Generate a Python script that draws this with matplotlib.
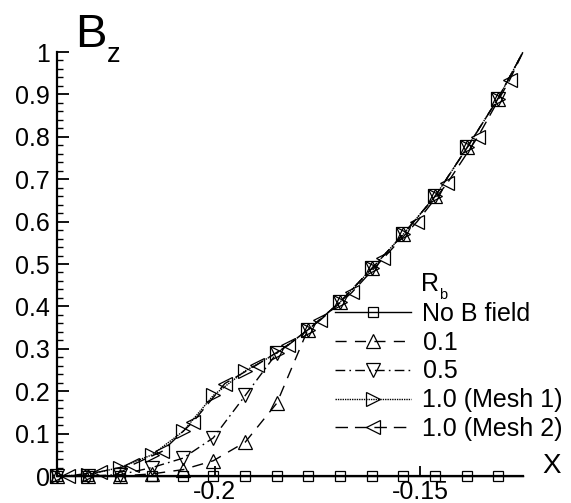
import matplotlib
matplotlib.use("Agg")
import matplotlib.pyplot as plt
from matplotlib.ticker import MultipleLocator, FixedLocator, FuncFormatter

plt.rcParams['font.family'] = ['Liberation Sans', 'DejaVu Sans']

# ---- data ----
x_grid = [-0.2385, -0.2310, -0.2232, -0.2153, -0.2078, -0.2004, -0.1926, -0.1849,
          -0.1774, -0.1695, -0.1617, -0.1541, -0.1463, -0.1385, -0.1310, -0.1249]
y_no_b = [0, 0, 0, 0, 0, 0, 0, 0, 0, 0, 0, 0, 0, 0, 0, 0]
y_rb01 = [0, 0, 0, 0.005, 0.015, 0.036, 0.08, 0.172, 0.344, 0.41, 0.49, 0.57,
          0.66, 0.775, 0.89, 1.0]
y_rb05 = [0, 0, 0.003, 0.02, 0.042, 0.09, 0.19, 0.29, 0.344, 0.41, 0.49, 0.57,
          0.66, 0.775, 0.89, 1.0]
y_mesh1 = [0, 0.003, 0.02, 0.05, 0.105, 0.19, 0.248, 0.29, 0.344, 0.41, 0.49, 0.57,
           0.66, 0.775, 0.89, 1.0]
x_mesh2 = [-0.2385, -0.2359, -0.2280, -0.2202, -0.2129, -0.2054, -0.1976, -0.1898,
           -0.1822, -0.1744, -0.1666, -0.1590, -0.1507, -0.1434, -0.1359, -0.1281, -0.1249]
y_mesh2 = [0, 0, 0.01, 0.026, 0.058, 0.127, 0.218, 0.262, 0.308, 0.367, 0.433, 0.513,
           0.60, 0.69, 0.80, 0.935, 1.0]

labels = ["No B field", "0.1", "0.5", "1.0 (Mesh 1)", "1.0 (Mesh 2)"]
x_ticks = [-0.2, -0.15]
y_ticks = [0, 0.1, 0.2, 0.3, 0.4, 0.5, 0.6, 0.7, 0.8, 0.9, 1.0]

W, H = 571, 503
fig = plt.figure(figsize=(W / 100, H / 100), dpi=100)
ax = fig.add_axes([57 / W, 27 / H, 466 / W, 424 / H])

common = dict(color='black', lw=1.0, fillstyle='none', mew=0.9, clip_on=False)
ax.plot(x_grid, y_no_b, ls='-', marker='s', ms=7.5, markevery=slice(0, -1),
        label=labels[0], **common)
ax.plot(x_grid, y_rb01, ls=(0, (8, 6)), marker='^', ms=9.5, markevery=slice(0, -1),
        label=labels[1], **common)
ax.plot(x_grid, y_rb05, ls=(0, (7, 3, 1.2, 3)), marker='v', ms=9.5, markevery=slice(0, -1),
        label=labels[2], **common)
ax.plot(x_grid, y_mesh1, ls=(0, (1, 0.7)), marker='>', ms=9.5, markevery=slice(0, -1),
        label=labels[3], **common)
ax.plot(x_mesh2, y_mesh2, ls=(0, (9, 5)), marker='<', ms=9.5, markevery=slice(1, -1),
        label=labels[4], **common)

ax.set_xlim(x_grid[0], x_grid[-1])
ax.set_ylim(0, 1)

for s in ['top', 'right']:
    ax.spines[s].set_visible(False)
ax.spines['left'].set_linewidth(1.6)
ax.spines['bottom'].set_linewidth(1.6)

ax.xaxis.set_major_locator(FixedLocator(x_ticks))
ax.xaxis.set_major_formatter(FuncFormatter(lambda v, p: f"{v:g}"))
ax.yaxis.set_major_locator(FixedLocator(y_ticks))
ax.yaxis.set_minor_locator(MultipleLocator(0.02))
ax.yaxis.set_major_formatter(FuncFormatter(lambda v, p: f"{v:g}"))

ax.tick_params(axis='y', which='major', direction='in', length=8.5, width=1.3,
               labelsize=18, pad=5)
ax.tick_params(axis='y', which='minor', direction='in', length=4.5, width=1.0)
ax.tick_params(axis='x', which='major', direction='in', length=7.5, width=1.3,
               labelsize=18, pad=3)

# axis titles
fig.text(75 / W, 1 - 47 / H, "B", fontsize=34, ha='left', va='baseline')
fig.text(107 / W, 1 - 62 / H, "z", fontsize=19.5, ha='left', va='baseline')
fig.text(542 / W, 1 - 473 / H, "X", fontsize=20, ha='left', va='baseline')

# legend
leg = ax.legend(loc='upper left', bbox_to_anchor=(335 / W, 1 - 302 / H),
                bbox_transform=fig.transFigure, frameon=False, fontsize=18,
                handlelength=3.05, handletextpad=0.45, labelspacing=0.19,
                borderpad=0, borderaxespad=0)
fig.text(421 / W, 1 - 291 / H, "R", fontsize=18, ha='left', va='baseline')
fig.text(439 / W, 1 - 299 / H, "b", fontsize=10.5, ha='left', va='baseline')

fig.savefig("out.png", dpi=100)
